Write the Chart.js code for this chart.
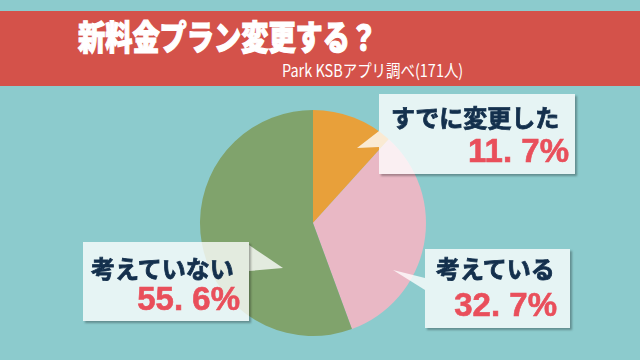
<!DOCTYPE html>
<html lang="ja">
<head>
<meta charset="utf-8">
<script src="https://cdn.jsdelivr.net/npm/chart.js@4"></script>
<style>
  body { margin: 0; }
  #wrap { position: relative; width: 640px; height: 360px; overflow: hidden; background: #8ccbcd; font-family: "Noto Sans CJK JP", sans-serif; }
  #banner { position: absolute; left: 0; top: 11px; width: 640px; height: 75px; background: #d4524a; }
  #title { position: absolute; left: 78px; top: 19px; font-size: 34px; line-height: 34px; font-weight: 900; color: #fff; white-space: nowrap; transform: scaleX(0.8); transform-origin: left top; -webkit-text-stroke: 1.2px #fff; }
  #sub { position: absolute; left: 282px; top: 61px; font-size: 17px; line-height: 17px; color: #fff; white-space: nowrap; transform: scaleX(0.85); transform-origin: left top; }
  #MyChart { position: absolute; left: 0; top: 0; }
  #tails { position: absolute; left: 0; top: 0; }
  .box { position: absolute; background: rgba(255,255,255,0.78); box-shadow: 2px 2px 2px rgba(0,0,0,0.3); }
  .lab { position: absolute; font-size: 24px; line-height: 24px; font-weight: 700; color: #14304d; white-space: nowrap; -webkit-text-stroke: 0.8px #14304d; }
  .val { position: absolute; font-family: "Liberation Sans", Arial, sans-serif; font-size: 33px; line-height: 33px; font-weight: 700; color: #e94f5b; white-space: nowrap; -webkit-text-stroke: 0.6px #e94f5b; }
</style>
</head>
<body>
<div id="wrap">
  <div id="banner"></div>
  <div id="title"></div>
  <div id="sub"></div>
  <canvas id="MyChart" width="640" height="360"></canvas>
  <svg id="tails" width="640" height="360">
    <polygon points="357,148 379,131 379,147" fill="rgba(255,255,255,0.78)"/>
    <polygon points="393,270 425,278 425,290" fill="rgba(255,255,255,0.78)"/>
    <polygon points="283,268 249,245 249,271" fill="rgba(255,255,255,0.78)"/>
  </svg>
  <div class="box" style="left:379px;top:94px;width:196px;height:80px"></div>
  <div class="box" style="left:425px;top:249px;width:145px;height:79px"></div>
  <div class="box" style="left:83px;top:242px;width:166px;height:79px"></div>
  <div class="lab" id="lab0" style="left:391px;top:105px"></div>
  <div class="val" id="val0" style="right:71px;top:134px"></div>
  <div class="lab" id="lab1" style="left:436px;top:256px"></div>
  <div class="val" id="val1" style="right:83px;top:288px"></div>
  <div class="lab" id="lab2" style="left:91px;top:256px"></div>
  <div class="val" id="val2" style="right:400px;top:282px"></div>
</div>
<script>
var titleText = '新料金プラン変更する？';
var sourceText = 'Park KSBアプリ調べ(171人)';
var categories = ['すでに変更した', '考えている', '考えていない'];
var values = [11.7, 32.7, 55.6];
var sliceColors = ['#e8a03a', '#e9b8c5', '#80a36c'];

document.addEventListener('DOMContentLoaded', function () {
    document.getElementById('title').textContent = titleText;
    document.getElementById('sub').textContent = sourceText;

    // callout texts
    for (var i = 0; i < categories.length; i++) {
        document.getElementById('lab' + i).textContent = categories[i];
        document.getElementById('val' + i).textContent = values[i].toFixed(1).replace('.', '. ') + '%';
    }

    var ctx = document.getElementById('MyChart').getContext('2d');
    var MyChart = new Chart(ctx, {
        type: 'pie',
        data: {
            labels: categories,
            datasets: [{
                data: values,
                backgroundColor: sliceColors,
                borderWidth: 0
            }]
        },
        options: {
            responsive: false,
            animation: false,
            layout: {
                padding: { top: 110, bottom: 24, left: 200, right: 214 }
            },
            plugins: {
                legend: { display: false },
                tooltip: { enabled: false }
            }
        }
    });
});
</script>
</body>
</html>
